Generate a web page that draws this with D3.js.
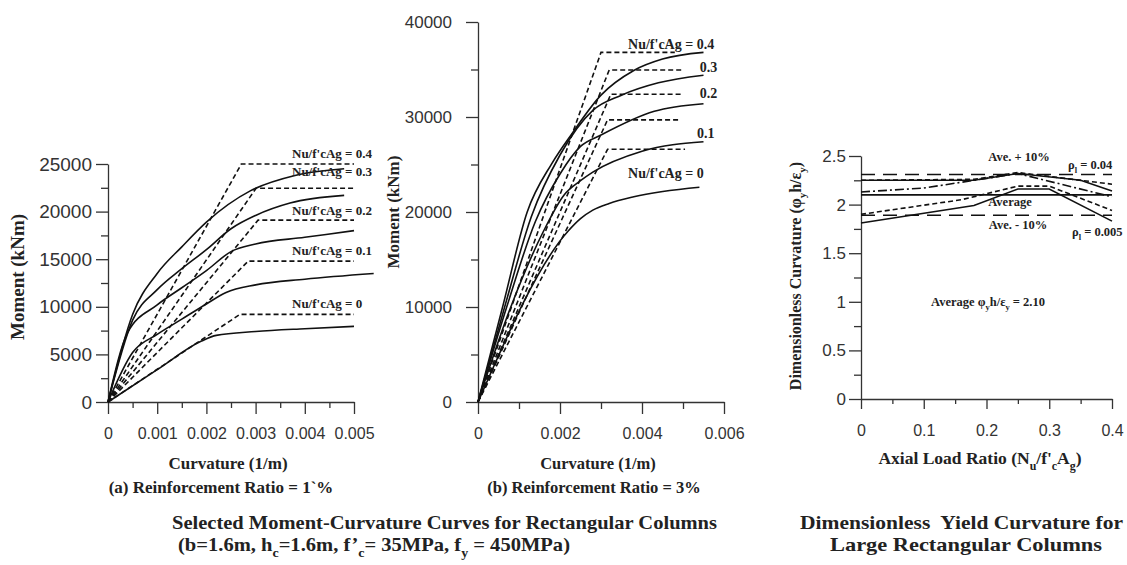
<!DOCTYPE html>
<html lang="en">
<head>
<meta charset="UTF-8">
<title>Moment-Curvature Curves</title>
<style>
  body { margin: 0; background: #fff; }
  svg { display: block; }
  .serif { font-family: "Liberation Serif", "Times New Roman", serif; font-weight: bold; fill: #222; }
  .curve { fill: none; stroke: #111; stroke-width: 1.6; }
</style>
</head>
<body>
<svg id="chart" width="1127" height="565"></svg>
<script src="https://cdnjs.cloudflare.com/ajax/libs/d3/7.9.0/d3.min.js"></script>
<script>
// ---------- data ----------
const loadRatios = ["0", "0.1", "0.2", "0.3", "0.4"];

// (a) reinforcement ratio 1%, points are [curvature 1/m, moment kNm], one row per load ratio
const aActual = [
  [[0, 0], [0.001, 3400], [0.0019, 6400], [0.0022, 7000], [0.003, 7400], [0.004, 7700], [0.005, 7950]],
  [[0, 0], [0.0005, 5200], [0.001, 7100], [0.0015, 8700], [0.002, 10300], [0.0024, 11500], [0.003, 12300], [0.004, 12900], [0.0054, 13500]],
  [[0, 0], [0.0004, 7300], [0.001, 10200], [0.0015, 12000], [0.002, 13800], [0.0025, 15800], [0.003, 16600], [0.004, 17300], [0.005, 18000]],
  [[0, 0], [0.0005, 8600], [0.001, 11800], [0.0015, 14000], [0.002, 16000], [0.0025, 18200], [0.003, 19600], [0.0037, 20900], [0.0048, 21700]],
  [[0, 0], [0.0005, 9200], [0.001, 13500], [0.0015, 16300], [0.002, 18900], [0.0029, 22200], [0.0038, 23800], [0.0048, 24500]]
];
const aIdeal = [
  [[0, 0], [0.00268, 9200], [0.005, 9200]],
  [[0, 0], [0.00285, 14800], [0.005, 14800]],
  [[0, 0], [0.00305, 19100], [0.005, 19100]],
  [[0, 0], [0.00301, 22450], [0.005, 22450]],
  [[0, 0], [0.00271, 25000], [0.005, 25000]]
];

// (b) reinforcement ratio 3%
const bActual = [
  [[0, 0], [0.0022, 18000], [0.0025, 19300], [0.0028, 20200], [0.0032, 20900], [0.0038, 21600], [0.0054, 22600]],
  [[0, 0], [0.0008, 10000], [0.0016, 18000], [0.0021, 21800], [0.0025, 23300], [0.0028, 24200], [0.004, 26400], [0.0055, 27400]],
  [[0, 0], [0.0007, 10000], [0.0014, 19000], [0.002, 24000], [0.0025, 26900], [0.003, 28100], [0.0043, 30600], [0.0055, 31400]],
  [[0, 0], [0.00065, 10000], [0.0013, 19500], [0.002, 26000], [0.0028, 30700], [0.0035, 32300], [0.0044, 33600], [0.0055, 34400]],
  [[0, 0], [0.0006, 10000], [0.0012, 20000], [0.0018, 25100], [0.0023, 28300], [0.003, 32300], [0.0038, 34900], [0.0045, 36100], [0.0055, 36800]]
];
const bIdeal = [
  [[0, 0], [0.00316, 26600], [0.00505, 26600]],
  [[0, 0], [0.00316, 29700], [0.00493, 29700]],
  [[0, 0], [0.00324, 32400], [0.005, 32400]],
  [[0, 0], [0.0032, 34950], [0.00497, 34950]],
  [[0, 0], [0.003, 36800], [0.0048, 36800]]
];

// (c) dimensionless yield curvature vs axial load ratio
const cAverageBands = [2.31, 2.10, 1.89];        // Ave.+10%, Average, Ave.-10%
const cRho004 = [[0, 2.25], [0.18, 2.25], [0.25, 2.32], [0.35, 2.25], [0.4, 2.14]];
const cDashUpper = [[0, 2.25], [0.18, 2.26], [0.25, 2.33], [0.4, 2.21]];
const cDashDot = [[0, 2.13], [0.1, 2.17], [0.25, 2.32], [0.4, 2.08]];
const cDashLower = [[0, 1.90], [0.16, 2.05], [0.25, 2.19], [0.3, 2.19], [0.4, 1.94]];
const cRho0005 = [[0, 1.81], [0.18, 1.99], [0.25, 2.16], [0.3, 2.16], [0.4, 1.83]];

// ---------- drawing ----------
const svg = d3.select("#chart");
svg.append("rect").attr("width", 1127).attr("height", 565).attr("fill", "#fff");

const line = (x, y) => d3.line().x(d => x(d[0])).y(d => y(d[1]));
const smooth = (x, y) => line(x, y).curve(d3.curveMonotoneX);

// draws one axis with long major ticks (labelled) and short minor ticks
function axis(orient, scale, pos, major, minor, o) {
  const mk = orient === "bottom" ? d3.axisBottom : d3.axisLeft;
  const tr = orient === "bottom" ? `translate(0,${pos})` : `translate(${pos},0)`;
  const g = svg.append("g").attr("transform", tr)
    .call(mk(scale).tickValues(major).tickSize(o.major).tickSizeOuter(0)
      .tickPadding(o.pad).tickFormat(o.fmt))
    .attr("font-family", "'Liberation Sans', Arial, sans-serif")
    .attr("font-size", o.font).attr("color", "#333");
  g.selectAll("line, path").attr("stroke-width", 1.3);
  svg.append("g").attr("transform", tr)
    .call(mk(scale).tickValues(minor).tickSize(o.minor).tickFormat(""))
    .attr("color", "#333")
    .call(s => s.select(".domain").remove())
    .selectAll("line").attr("stroke-width", 1.3);
}

function rich(sel, parts) {
  parts.forEach(p => {
    if (typeof p === "string") sel.append("tspan").text(p);
    else sel.append("tspan").attr("baseline-shift", "sub").attr("font-size", "68%").text(p.sub);
  });
  return sel;
}

function label(x, y, size, anchor, parts, rotate) {
  const t = svg.append("text").attr("class", "serif")
    .attr("font-size", size).attr("text-anchor", anchor).attr("dominant-baseline", "middle");
  if (rotate) t.attr("transform", `translate(${x},${y}) rotate(-90)`);
  else t.attr("x", x).attr("y", y);
  return rich(t, parts);
}

// ----- panel (a) -----
const xa = d3.scaleLinear([0, 0.005], [108, 354]);
const ya = d3.scaleLinear([0, 25000], [402, 164]);
axis("bottom", xa, 402, d3.range(0, 6).map(i => i * 0.001), d3.range(0, 5).map(i => 0.0005 + i * 0.001),
  { major: 12, minor: 6, pad: 14, font: 16, fmt: d => d === 0 ? "0" : d3.format(".3f")(d) });
axis("left", ya, 108, d3.range(0, 6).map(i => i * 5000), d3.range(0, 5).map(i => 2500 + i * 5000),
  { major: 12, minor: 7, pad: 4, font: 19, fmt: d3.format("d") });

aIdeal.forEach(s => svg.append("path").attr("class", "curve").attr("stroke-dasharray", "5,3").attr("d", line(xa, ya)(s)));
aActual.forEach(s => svg.append("path").attr("class", "curve").attr("d", smooth(xa, ya)(s)));

[[0.4, 25950], [0.3, 24050], [0.2, 19960], [0.1, 15760], [0, 10190]].forEach(([r, m]) => {
  label(xa(0.00374), ya(m), 13, "start", [`Nu/f'cAg = ${loadRatios[r * 10]}`]);
});
label(20, 277, 19, "middle", ["Moment (kNm)"], true);
label(228, 465, 17, "middle", ["Curvature (1/m)"]);
label(221, 489, 17, "middle", ["(a) Reinforcement Ratio = 1`%"]);

// ----- panel (b) -----
const xb = d3.scaleLinear([0, 0.006], [478, 724]);
const yb = d3.scaleLinear([0, 40000], [402, 22]);
axis("bottom", xb, 402, [0, 0.002, 0.004, 0.006], [0.001, 0.003, 0.005],
  { major: 12, minor: 7, pad: 14, font: 16, fmt: d => d === 0 ? "0" : d3.format(".3f")(d) });
axis("left", yb, 478, d3.range(0, 5).map(i => i * 10000), d3.range(0, 4).map(i => 5000 + i * 10000),
  { major: 12, minor: 7, pad: 14, font: 17, fmt: d3.format("d") });

bIdeal.forEach(s => svg.append("path").attr("class", "curve").attr("stroke-dasharray", "5,3").attr("d", line(xb, yb)(s)));
bActual.forEach(s => svg.append("path").attr("class", "curve").attr("d", smooth(xb, yb)(s)));

label(xb(0.00366), yb(37500), 14, "start", [`Nu/f'cAg = ${loadRatios[4]}`]);
label(xb(0.00541), yb(35050), 14, "start", [loadRatios[3]]);
label(xb(0.00541), yb(32300), 14, "start", [loadRatios[2]]);
label(xb(0.00534), yb(28100), 14, "start", [loadRatios[1]]);
label(xb(0.00366), yb(23900), 14, "start", [`Nu/f'cAg = ${loadRatios[0]}`]);
label(395, 212, 17, "middle", ["Moment (kNm)"], true);
label(598, 465, 16.5, "middle", ["Curvature (1/m)"]);
label(594, 489, 16.5, "middle", ["(b) Reinforcement Ratio = 3%"]);

// ----- panel (c) -----
const xc = d3.scaleLinear([0, 0.4], [861, 1112]);
const yc = d3.scaleLinear([0, 2.5], [399, 156]);
axis("bottom", xc, 399, [0, 0.1, 0.2, 0.3, 0.4], [0.05, 0.15, 0.25, 0.35],
  { major: 10, minor: 5, pad: 16, font: 16, fmt: d => d === 0 ? "0" : d3.format(".1f")(d) });
axis("left", yc, 861, [0, 0.5, 1, 1.5, 2, 2.5], [0.25, 0.75, 1.25, 1.75, 2.25],
  { major: 12, minor: 7, pad: 3, font: 17, fmt: d => d3.format("")(d) });

const lc = line(xc, yc);
// average and +/-10 % bands
cAverageBands.forEach((v, i) => {
  const p = svg.append("path").attr("class", "curve").attr("d", lc([[0, v], [0.4, v]]));
  if (i !== 1) p.attr("stroke-width", 3).attr("stroke-dasharray", "14,8");
});
svg.append("path").attr("class", "curve").attr("d", lc(cRho004));
svg.append("path").attr("class", "curve").attr("stroke-dasharray", "5,3").attr("d", lc(cDashUpper));
svg.append("path").attr("class", "curve").attr("stroke-dasharray", "9,3,2,3").attr("d", lc(cDashDot));
svg.append("path").attr("class", "curve").attr("stroke-dasharray", "5,3").attr("d", lc(cDashLower));
svg.append("path").attr("class", "curve").attr("d", lc(cRho0005));

label(1019, 158, 12.5, "middle", ["Ave. + 10%"]);
label(1010, 203, 12.5, "middle", ["Average"]);
label(1018, 226, 12.5, "middle", ["Ave. - 10%"]);
label(1068, 166, 12.5, "start", ["ρ", { sub: "l" }, " = 0.04"]);
label(1072, 233, 12.5, "start", ["ρ", { sub: "l" }, " = 0.005"]);
label(988, 303, 12.5, "middle", ["Average φ", { sub: "y" }, "h/ε", { sub: "y" }, " = 2.10"]);
label(797, 276, 16, "middle", ["Dimensionless Curvature (φ", { sub: "y" }, "h/ε", { sub: "y" }, ")"], true);
label(980, 460, 17.5, "middle", ["Axial Load Ratio (N", { sub: "u" }, "/f'", { sub: "c" }, "A", { sub: "g" }, ")"]);

// ----- figure captions -----
label(172, 525, 19, "start", ["Selected Moment-Curvature Curves for Rectangular Columns"])
  .attr("textLength", 545).attr("lengthAdjust", "spacingAndGlyphs");
label(178, 547, 19, "start", ["(b=1.6m, h", { sub: "c" }, "=1.6m, f’", { sub: "c" }, "= 35MPa, f", { sub: "y" }, " = 450MPa)"])
  .attr("textLength", 392).attr("lengthAdjust", "spacingAndGlyphs");
label(800, 525, 19, "start", ["Dimensionless  Yield Curvature for"])
  .attr("xml:space", "preserve").attr("textLength", 323).attr("lengthAdjust", "spacingAndGlyphs");
label(966, 547, 19, "middle", ["Large Rectangular Columns"])
  .attr("textLength", 272).attr("lengthAdjust", "spacingAndGlyphs");
</script>
</body>
</html>
